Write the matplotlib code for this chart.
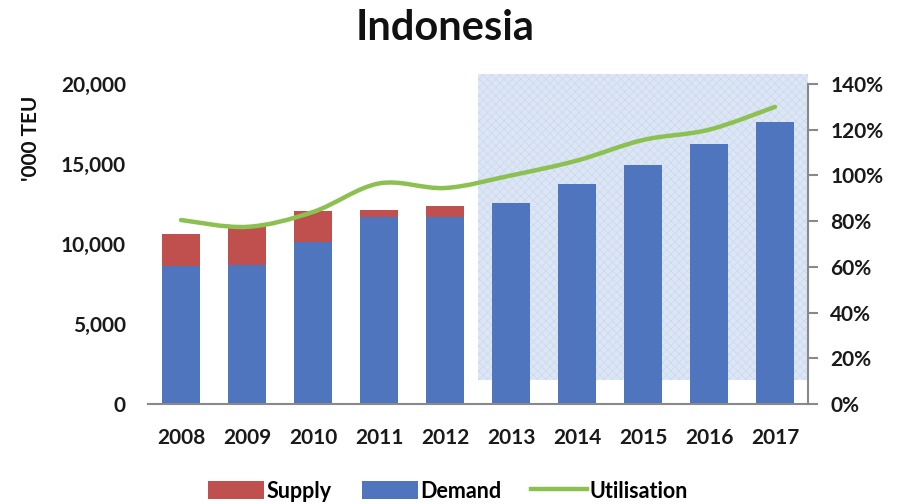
import numpy as np
import matplotlib.pyplot as plt
from matplotlib.patches import Rectangle, PathPatch, Patch
from matplotlib.path import Path
from matplotlib.lines import Line2D
from matplotlib.ticker import FuncFormatter

plt.rcParams['font.family'] = ['Lato', 'DejaVu Sans']
plt.rcParams['font.weight'] = 'bold'
plt.rcParams['hatch.linewidth'] = 0.6

years = ['2008', '2009', '2010', '2011', '2012', '2013', '2014', '2015', '2016', '2017']
supply = [10650, 11200, 12050, 12150, 12400, 12550, 12900, 12950, 13550, 13550]
demand = [8600, 8700, 10150, 11700, 11700, 12550, 13750, 14950, 16250, 17650]
utilisation = [80.5, 77.5, 84, 96.5, 94.5, 100, 106.5, 115.5, 120, 130]

left_ticks = [0, 5000, 10000, 15000, 20000]
right_ticks = [0, 20, 40, 60, 80, 100, 120, 140]

RED = '#c0504d'
BLUE = '#4f75be'
GREEN = '#8cc152'
GREY = '#898989'

fig = plt.figure(figsize=(9.08, 5.04), dpi=100)
ax = fig.add_axes([148 / 908, 1 - 404 / 504, 660 / 908, 320 / 504])
ax2 = ax.twinx()

x = np.arange(len(years))

# forecast shading (2013 onwards)
shade = Rectangle((4.5, 1500), 5.0, 19150, facecolor='#dce6f5', edgecolor='#cddaef',
                  linewidth=0, hatch='xxxx', zorder=0, clip_on=False)
ax.add_patch(shade)

# overlapped bars: supply behind, demand in front
ax.bar(x, supply, width=0.58, color=RED, zorder=2)
ax.bar(x, demand, width=0.58, color=BLUE, zorder=3)

ax.set_xlim(-0.5, 9.5)
ax.set_ylim(0, 20000)
ax.set_yticks(left_ticks)
ax.yaxis.set_major_formatter(FuncFormatter(lambda v, p: '{:,.0f}'.format(v)))
ax.set_xticks(x)
ax.set_xticklabels(years)
ax.tick_params(axis='y', length=0, pad=16, labelsize=15, labelcolor='#1a1a1a')
ax.tick_params(axis='x', length=0, pad=17, labelsize=15, labelcolor='#1a1a1a')
for s in ['top', 'left', 'right']:
    ax.spines[s].set_visible(False)
ax.spines['bottom'].set_color(GREY)
ax.spines['bottom'].set_linewidth(1.5)
ax.spines['bottom'].set_zorder(4)

# smoothed utilisation line (Excel-style smoothing)
pts = np.column_stack([x, utilisation]).astype(float)
verts = [tuple(pts[0])]
codes = [Path.MOVETO]
n = len(pts)
for i in range(n - 1):
    p_prev = pts[i - 1] if i > 0 else pts[i]
    p_next2 = pts[i + 2] if i + 2 < n else pts[i + 1]
    c1 = pts[i] + (pts[i + 1] - p_prev) / 6
    c2 = pts[i + 1] - (p_next2 - pts[i]) / 6
    verts += [tuple(c1), tuple(c2), tuple(pts[i + 1])]
    codes += [Path.CURVE4] * 3
ax2.add_patch(PathPatch(Path(verts, codes), facecolor='none', edgecolor=GREEN,
                        linewidth=3.2, capstyle='round', zorder=5))

ax2.set_ylim(0, 140)
ax2.set_yticks(right_ticks)
ax2.yaxis.set_major_formatter(FuncFormatter(lambda v, p: '{:.0f}%'.format(v)))
ax2.tick_params(axis='y', length=7, width=1.5, color=GREY, pad=9, labelsize=15,
                labelcolor='#1a1a1a')
for s in ['top', 'left', 'bottom']:
    ax2.spines[s].set_visible(False)
ax2.spines['right'].set_color(GREY)
ax2.spines['right'].set_linewidth(1.5)

fig.text(445 / 908, 1 - 28 / 504, 'Indonesia', ha='center', va='center',
         fontsize=30, fontweight='bold', color='#111111')
fig.text(31 / 908, 1 - 138 / 504, "'000 TEU", ha='center', va='center',
         rotation=90, fontsize=15, fontweight='bold', color='#111111')

handles = [Patch(facecolor=RED), Patch(facecolor=BLUE),
           Line2D([0], [0], color=GREEN, linewidth=3.2)]
fig.legend(handles, ['Supply', 'Demand', 'Utilisation'], loc='center',
           bbox_to_anchor=(448 / 908, 1 - 491 / 504), ncol=3, frameon=False,
           fontsize=15.5, handlelength=2.6, handleheight=0.9, handletextpad=0.1,
           columnspacing=1.4, borderpad=0)

fig.savefig('out.png', dpi=100)
